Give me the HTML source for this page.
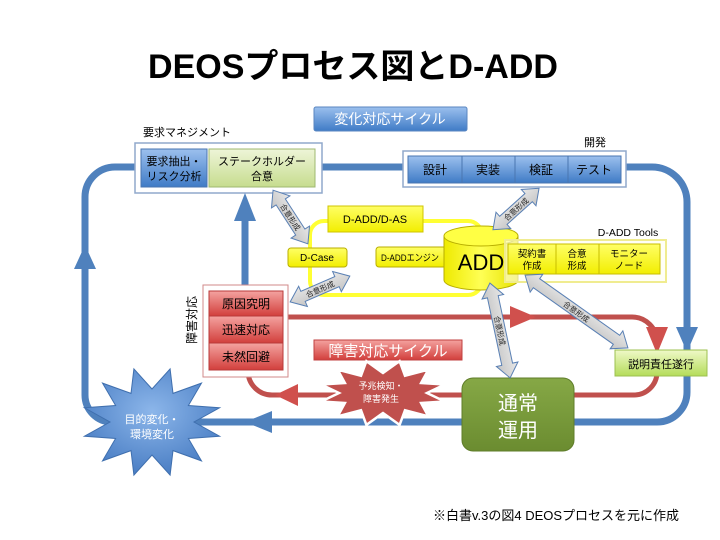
<!DOCTYPE html>
<html><head><meta charset="utf-8"><style>
html,body{margin:0;padding:0;background:#fff;}
svg{display:block;}
text{font-family:"Liberation Sans","Noto Sans CJK JP",sans-serif;}
</style></head><body>
<svg width="720" height="540" viewBox="0 0 720 540" xmlns="http://www.w3.org/2000/svg">
<defs>
<linearGradient id="gb" x1="0" y1="0" x2="0" y2="1"><stop offset="0" stop-color="#9cc0ee"/><stop offset="1" stop-color="#3f7bc6"/></linearGradient>
<linearGradient id="gg" x1="0" y1="0" x2="0" y2="1"><stop offset="0" stop-color="#eef5d8"/><stop offset="1" stop-color="#c6dc8e"/></linearGradient>
<linearGradient id="gg2" x1="0" y1="0" x2="0" y2="1"><stop offset="0" stop-color="#eff9c8"/><stop offset="1" stop-color="#b4dc5a"/></linearGradient>
<linearGradient id="gr" x1="0" y1="0" x2="0" y2="1"><stop offset="0" stop-color="#f4a3a0"/><stop offset="1" stop-color="#d23f3c"/></linearGradient>
<linearGradient id="gy" x1="0" y1="0" x2="0" y2="1"><stop offset="0" stop-color="#ffff66"/><stop offset="1" stop-color="#f2ee00"/></linearGradient>
<linearGradient id="gc" x1="0" y1="0" x2="1" y2="0"><stop offset="0" stop-color="#eeea00"/><stop offset="0.5" stop-color="#ffff55"/><stop offset="1" stop-color="#e6e200"/></linearGradient>
<linearGradient id="ggr" x1="0" y1="0" x2="0" y2="1"><stop offset="0" stop-color="#e8e8e8"/><stop offset="1" stop-color="#c4c4c4"/></linearGradient>
<linearGradient id="gn" x1="0" y1="0" x2="0" y2="1"><stop offset="0" stop-color="#86a846"/><stop offset="1" stop-color="#6b8c30"/></linearGradient>
<radialGradient id="gs" cx="0.5" cy="0.4" r="0.6"><stop offset="0" stop-color="#8cb6ea"/><stop offset="1" stop-color="#4a7ec4"/></radialGradient>
</defs>

<!-- Title -->
<text x="353" y="78" font-size="34" font-weight="bold" text-anchor="middle" fill="#000">DEOSプロセス図とD-ADD</text>

<!-- Blue loop -->
<g fill="none" stroke="#4f81bd" stroke-width="7">
<path d="M135,167 H115 A30,30 0 0 0 85,197 V395 A27,27 0 0 0 112,422 H462"/>
<path d="M574,422 H657 A30,30 0 0 0 687,392 V202 A35,35 0 0 0 652,167 H626"/>
<path d="M322,167 H403"/>
<path d="M245,285 V218"/>
</g>

<!-- Red loop -->
<g fill="none" stroke="#c0504d" stroke-width="5">
<path d="M288,317 H632 A25,25 0 0 1 657,342 V345"/>
<path d="M657,376 V372 A23,23 0 0 1 634,395 H574"/>
<path d="M462,395 H272 A24,24 0 0 1 248,371"/>
</g>

<!-- Yellow D-ADD region -->
<rect x="310" y="221" width="172" height="74" rx="14" fill="none" stroke="#ffff33" stroke-width="4"/>

<!-- 変化対応サイクル -->
<rect x="314" y="107" width="153" height="24" rx="2" fill="url(#gb)" stroke="#5a86c0"/>
<text x="390" y="124" font-size="14" fill="#fff" text-anchor="middle">変化対応サイクル</text>

<!-- 要求マネジメント -->
<text x="143" y="136" font-size="11" fill="#000">要求マネジメント</text>
<rect x="135" y="143" width="187" height="50" fill="#fff" stroke="#90a8cc" stroke-width="1.5"/>
<rect x="141" y="149" width="66" height="38" fill="url(#gb)" stroke="#4a76b0"/>
<text x="174" y="165" font-size="11" text-anchor="middle" fill="#000">要求抽出・</text>
<text x="174" y="180" font-size="11" text-anchor="middle" fill="#000">リスク分析</text>
<rect x="209" y="149" width="106" height="38" fill="url(#gg)" stroke="#9fb870"/>
<text x="262" y="165" font-size="11" text-anchor="middle" fill="#000">ステークホルダー</text>
<text x="262" y="180" font-size="11" text-anchor="middle" fill="#000">合意</text>

<!-- 開発 -->
<text x="595" y="146" font-size="11" text-anchor="middle" fill="#000">開発</text>
<rect x="403" y="151" width="223" height="36" fill="#fff" stroke="#90a8cc" stroke-width="1.5"/>
<g stroke="#4a76b0" fill="url(#gb)">
<rect x="408" y="156" width="54" height="27"/>
<rect x="462" y="156" width="53" height="27"/>
<rect x="515" y="156" width="53" height="27"/>
<rect x="568" y="156" width="53" height="27"/>
</g>
<g font-size="12" text-anchor="middle" fill="#000">
<text x="435" y="174">設計</text>
<text x="488" y="174">実装</text>
<text x="541" y="174">検証</text>
<text x="594" y="174">テスト</text>
</g>

<!-- D-ADD boxes -->
<rect x="328" y="206" width="95" height="26" fill="url(#gy)" stroke="#cfc400"/>
<text x="375" y="223" font-size="11" text-anchor="middle" fill="#000">D-ADD/D-AS</text>
<rect x="288" y="248" width="59" height="19" rx="3" fill="url(#gy)" stroke="#b8ae00"/>
<text x="317" y="261" font-size="10" text-anchor="middle" fill="#000">D-Case</text>
<rect x="376" y="247" width="71" height="20" rx="3" fill="url(#gy)" stroke="#b8ae00"/>
<text x="381" y="261" font-size="9.5" textLength="58" lengthAdjust="spacingAndGlyphs" fill="#000">D-ADDエンジン</text>

<!-- ADD cylinder -->
<path d="M444,236 V280 A37,10 0 0 0 518,280 V236" fill="url(#gc)" stroke="#b8ae00"/>
<ellipse cx="481" cy="236" rx="37" ry="10" fill="#ffff44" stroke="#b8ae00"/>
<text x="481" y="270" font-size="22" text-anchor="middle" fill="#000">ADD</text>

<!-- D-ADD Tools -->
<text x="628" y="236" font-size="10.5" text-anchor="middle" fill="#000">D-ADD Tools</text>
<rect x="505" y="240" width="161" height="42" fill="#fffff0" fill-opacity="0.6" stroke="#f0ec90" stroke-width="2"/>
<g fill="url(#gy)" stroke="#c8be00">
<rect x="508" y="244" width="48" height="30"/>
<rect x="556" y="244" width="43" height="30"/>
<rect x="599" y="244" width="61" height="30"/>
</g>
<g font-size="9.5" text-anchor="middle" fill="#000">
<text x="532" y="257">契約書</text><text x="532" y="269">作成</text>
<text x="577" y="257">合意</text><text x="577" y="269">形成</text>
<text x="629" y="257">モニター</text><text x="629" y="269">ノード</text>
</g>

<!-- 障害対応 -->
<text transform="translate(196,320) rotate(-90)" font-size="12" text-anchor="middle" fill="#000">障害対応</text>
<rect x="203" y="285" width="85" height="92" fill="#fff" stroke="#d08a8a" stroke-width="1"/>
<g fill="url(#gr)" stroke="#b83a3a">
<rect x="209" y="291" width="74" height="25"/>
<rect x="209" y="316" width="74" height="27"/>
<rect x="209" y="343" width="74" height="27"/>
</g>
<g font-size="12" text-anchor="middle" fill="#000">
<text x="246" y="308">原因究明</text>
<text x="246" y="334">迅速対応</text>
<text x="246" y="361">未然回避</text>
</g>

<rect x="314" y="340" width="148" height="20" fill="url(#gr)" stroke="#c04040"/>
<text x="388" y="356" font-size="15" text-anchor="middle" fill="#fff">障害対応サイクル</text>

<!-- Arrowheads -->
<g fill="#4f81bd">
<polygon points="85,245 74,269 96,269"/>
<polygon points="245,193 234,221 256,221"/>
<polygon points="687,352 676,327 698,327"/>
<polygon points="245,422 272,411 272,433"/>
</g>
<g fill="#d0504d">
<polygon points="536,317 510,306 510,328"/>
<polygon points="657,354 646,327 668,327"/>
<polygon points="275,395 298,384 298,406"/>
</g>

<!-- 説明責任遂行 -->
<rect x="615" y="350" width="92" height="26" fill="url(#gg2)" stroke="#9cc050"/>
<text x="661" y="368" font-size="11" text-anchor="middle" fill="#000">説明責任遂行</text>

<!-- 通常運用 -->
<rect x="462" y="378" width="112" height="73" rx="11" fill="url(#gn)" stroke="#5f7d2a"/>
<text x="518" y="410" font-size="20" text-anchor="middle" fill="#fff">通常</text>
<text x="518" y="437" font-size="20" text-anchor="middle" fill="#fff">運用</text>

<!-- Gray double arrows -->
<g fill="url(#ggr)" stroke="#5a80b4" stroke-width="1">
<g transform="translate(290.5,217) rotate(57)">
<polygon points="-32,0 -18,-11 -18,-5.5 18,-5.5 18,-11 32,0 18,11 18,5.5 -18,5.5 -18,11"/>
<text x="0" y="3" font-size="7.5" text-anchor="middle" fill="#222" stroke="none">合意形成</text>
</g>
<g transform="translate(516,209) rotate(-42)">
<polygon points="-31,0 -17,-11 -17,-5.5 17,-5.5 17,-11 31,0 17,11 17,5.5 -17,5.5 -17,11"/>
<text x="0" y="3" font-size="7.5" text-anchor="middle" fill="#222" stroke="none">合意形成</text>
</g>
<g transform="translate(320,289) rotate(-23.4)">
<polygon points="-32.5,0 -18.5,-11 -18.5,-5.5 18.5,-5.5 18.5,-11 32.5,0 18.5,11 18.5,5.5 -18.5,5.5 -18.5,11"/>
<text x="0" y="3" font-size="7.5" text-anchor="middle" fill="#222" stroke="none">合意形成</text>
</g>
<g transform="translate(500,330.5) rotate(78)">
<polygon points="-48.5,0 -34.5,-11 -34.5,-5.5 34.5,-5.5 34.5,-11 48.5,0 34.5,11 34.5,5.5 -34.5,5.5 -34.5,11"/>
<text x="0" y="3" font-size="7.5" text-anchor="middle" fill="#222" stroke="none">合意形成</text>
</g>
<g transform="translate(576.5,311.5) rotate(35.3)">
<polygon points="-63,0 -49,-11 -49,-5.5 49,-5.5 49,-11 63,0 49,11 49,5.5 -49,5.5 -49,11"/>
<text x="0" y="3" font-size="7.5" text-anchor="middle" fill="#222" stroke="none">合意形成</text>
</g>
</g>

<!-- Red star -->
<polygon points="399.6,361.1 405,375.7 428.3,369.7 421.1,383 444.8,384.5 427,393 444.8,401.5 421.1,403 428.3,416.3 405,410.3 399.6,424.9 383,413 366.4,424.9 361,410.3 337.7,416.3 344.9,403 321.2,401.5 339,393 321.2,384.5 344.9,383 337.7,369.7 361,375.7 366.4,361.1 383,373" fill="#c0504d" stroke="#fff" stroke-width="2.5"/>
<text x="381" y="389" font-size="9" text-anchor="middle" fill="#fff">予兆検知・</text>
<text x="381" y="402" font-size="9" text-anchor="middle" fill="#fff">障害発生</text>

<!-- Blue star -->
<polygon points="170.1,368.9 173,393.4 201.5,383.1 188.4,405.5 219.6,407.8 194,422 219.6,436.2 188.4,438.5 201.5,460.9 173,450.6 170.1,475.1 152,455 133.9,475.1 131,450.6 102.5,460.9 115.6,438.5 84.4,436.2 110,422 84.4,407.8 115.6,405.5 102.5,383.1 131,393.4 133.9,368.9 152,389" fill="url(#gs)" stroke="#3f6fae" stroke-width="1"/>
<text x="152" y="423" font-size="11" text-anchor="middle" fill="#fff">目的変化・</text>
<text x="152" y="438" font-size="11" text-anchor="middle" fill="#fff">環境変化</text>

<!-- Footer -->
<text x="433" y="520" font-size="13" fill="#000">※白書v.3の図4 DEOSプロセスを元に作成</text>
</svg>
</body></html>
